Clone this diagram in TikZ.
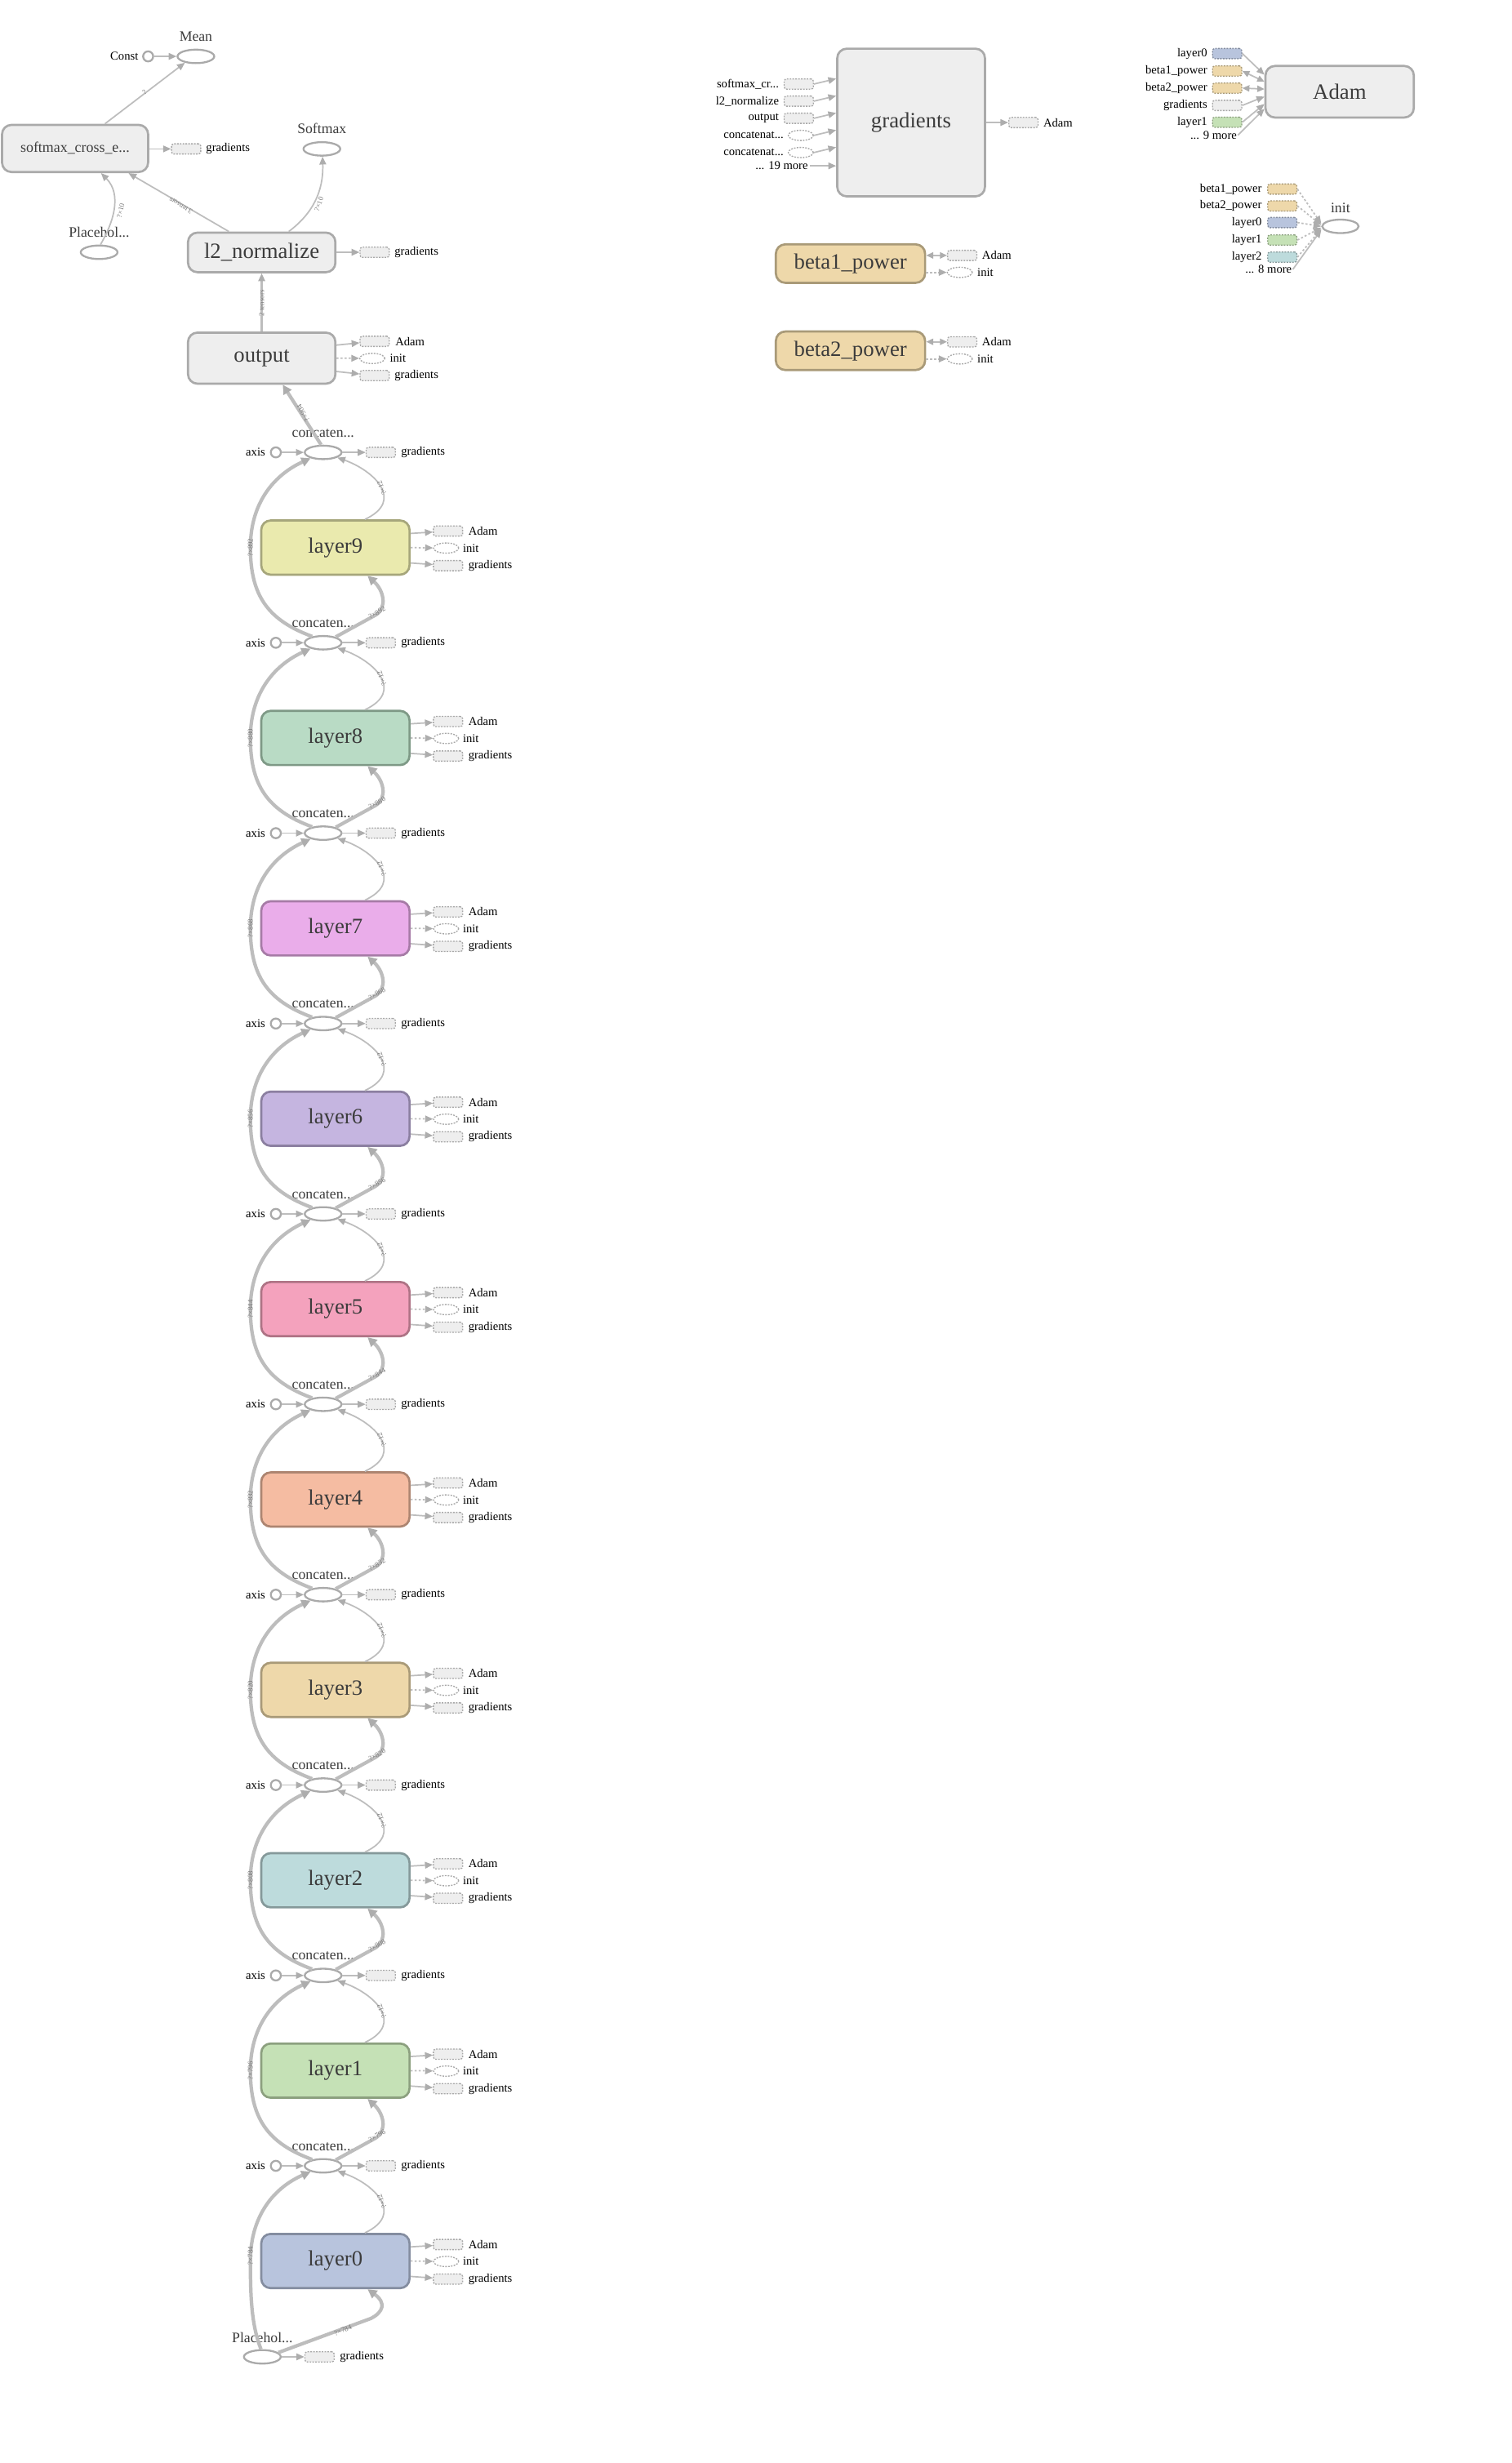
\documentclass[tikz,border=0pt]{standalone}
\usepackage{fontspec}
\setmainfont{Liberation Serif}
\usetikzlibrary{shapes.geometric,arrows.meta,calc}

\definecolor{edgecol}{HTML}{BDBDBD}
\definecolor{tipcol}{HTML}{ADADAD}
\definecolor{opfill}{HTML}{EEEEEE}
\definecolor{opdraw}{HTML}{AAAAAA}
\definecolor{stubdraw}{HTML}{A8A8A8}
\definecolor{txtdark}{HTML}{3C3C3C}
\definecolor{txtedge}{HTML}{7A7A7A}
\definecolor{tanfill}{HTML}{EED8AA}
\definecolor{tandraw}{HTML}{A99A78}
\definecolor{lfill0}{HTML}{B8C4DD}\definecolor{ldraw0}{HTML}{848DA0}
\definecolor{lfill1}{HTML}{C5E1B6}\definecolor{ldraw1}{HTML}{8CA07F}
\definecolor{lfill2}{HTML}{BDDBDC}\definecolor{ldraw2}{HTML}{85999A}
\definecolor{lfill3}{HTML}{EED8AA}\definecolor{ldraw3}{HTML}{A99A78}
\definecolor{lfill4}{HTML}{F5BCA2}\definecolor{ldraw4}{HTML}{AD8571}
\definecolor{lfill5}{HTML}{F4A2BD}\definecolor{ldraw5}{HTML}{AE7385}
\definecolor{lfill6}{HTML}{C5B5E0}\definecolor{ldraw6}{HTML}{8B7FA0}
\definecolor{lfill7}{HTML}{EAADEA}\definecolor{ldraw7}{HTML}{A67BA6}
\definecolor{lfill8}{HTML}{B9DBC5}\definecolor{ldraw8}{HTML}{7E9986}
\definecolor{lfill9}{HTML}{EAEAAE}\definecolor{ldraw9}{HTML}{A6A67B}

\begin{document}
\begin{tikzpicture}[x=1pt,y=-1pt,
  big/.style={font=\fontsize{13.9}{14}\selectfont,text=txtdark},
  mid/.style={font=\fontsize{9.2}{10}\selectfont,text=txtdark,inner sep=0},
  small/.style={font=\fontsize{7.6}{8}\selectfont,text=black,inner sep=0},
  tiny/.style={font=\fontsize{4.6}{5}\selectfont,text=txtedge,inner sep=0.3pt},
  opbox/.style={draw=opdraw,fill=opfill,line width=1.4pt,rounded corners=6pt,inner sep=0,big},
  opell/.style={ellipse,draw=opdraw,fill=white,line width=1.2pt,minimum width=23.4pt,minimum height=8.6pt,inner sep=0},
  constc/.style={circle,draw=opdraw,fill=white,line width=1.2pt,minimum size=6.4pt,inner sep=0},
  stubr/.style={draw=stubdraw,fill=opfill,dash pattern=on 1pt off 0.8pt,line width=0.7pt,rounded corners=1.5pt,minimum width=18.6pt,minimum height=6.5pt,inner sep=0},
  stube/.style={ellipse,draw=stubdraw,fill=white,dash pattern=on 1pt off 0.8pt,line width=0.7pt,minimum width=16pt,minimum height=6.5pt,inner sep=0},
  flow/.style={draw=edgecol,line width=0.9pt,-{Triangle[length=5pt,width=4.2pt,color=tipcol]}},
  heavy/.style={draw=edgecol,line width=2.2pt,-{Triangle[length=5.8pt,width=5.8pt,color=tipcol]}},
  ctrl/.style={flow,dash pattern=on 1.3pt off 1.3pt},
  both/.style={draw=edgecol,line width=0.9pt,{Triangle[length=4.5pt,width=4pt,color=tipcol]}-{Triangle[length=4.5pt,width=4pt,color=tipcol]}},
]
\fill[white] (0,0) rectangle (962,1568);
\useasboundingbox (0,0) rectangle (962,1568);

% ---------------- loss head ----------------
\node[opell] (mean) at (124.7,35.9) {};
\node[mid] (meanlbl) at (124.7,23.4) {Mean};
\node[constc] (const) at (94.3,35.9) {};
\node[small,anchor=east] (constlbl) at (88.2,35.9) {Const};
\draw[flow] (const) -- (mean);

\node[opbox,minimum width=93pt,minimum height=30pt,font=\fontsize{9.3}{10}\selectfont] (sce) at (47.8,94.5) {softmax\_cross\_e...};
\node[stubr] (scegr) at (118.5,94.8) {};
\node[small,anchor=west] (scegrlbl) at (131,94.8) {gradients};
\draw[flow] (sce.east |- scegr) -- (scegr);

\node[opell] (softmax) at (204.9,94.8) {};
\node[mid] (softmaxlbl) at (204.9,81.9) {Softmax};
\node[opell] (labels) at (63.1,160.6) {};
\node[mid] (labelslbl) at (63.1,148.1) {Placehol...};

\node[opbox,minimum width=93.8pt,minimum height=25.2pt] (l2) at (166.6,160.7) {l2\_normalize};
\node[stubr] (l2gr) at (238.5,160.6) {};
\node[small,anchor=west] (l2grlbl) at (251,160.6) {gradients};
\draw[flow] (l2.east |- l2gr) -- (l2gr);

\node[opbox,minimum width=93.8pt,minimum height=32.5pt] (out) at (166.6,228) {output};
\node[stubr] (oa) at (238.5,217.3) {};
\node[small,anchor=west] (oal) at (251.5,217.3) {Adam};
\node[stube] (oi) at (237,228.2) {};
\node[small,anchor=west] (oil) at (248,228.2) {init};
\node[stubr] (og) at (238.5,239.1) {};
\node[small,anchor=west] (ogl) at (251,239.1) {gradients};
\draw[flow] ([yshift=8.3pt]out.east) -- (oa);
\draw[ctrl] (out.east) -- (oi);
\draw[flow] ([yshift=-8.5pt]out.east) -- (og);

% loss head connectors
\draw[flow] ([xshift=19pt]sce.north) -- (mean.-150);
\node[tiny,rotate=38] (e1) at (92,58.5) {?};
\draw[flow] (labels.80) .. controls (72,142) and (78,124) .. ([xshift=16.5pt]sce.south);
\node[tiny,rotate=78] (e2) at (76.8,134) {?×10};
\draw[flow] ([xshift=-20.9pt]l2.north) -- ([xshift=34pt]sce.south);
\node[tiny,rotate=149] (e3) at (115,131) {3 tensors};
\draw[flow] ([xshift=17.2pt]l2.north) .. controls (199,136) and (206,122) .. (softmax.-85);
\node[tiny,rotate=70] (e4) at (203,130) {?×10};
\draw[flow,line width=1.2pt] (out.north) -- (l2.south);
\node[tiny,rotate=90] (e5) at (166.6,193) {2 tensors};

% ---------------- dense blocks ----------------
\foreach \j in {0,...,9} {
  \pgfmathsetmacro{\cy}{288+121.2*(9-\j)}
  \pgfmathsetmacro{\ly}{\cy+60.6}
  \node[opell] (c\j) at (205.7,\cy) {};
  \node[mid] (cl\j) at (205.7,\cy-12.3) {concaten...};
  \node[constc] (ax\j) at (175.6,\cy) {};
  \node[small,anchor=east] (axl\j) at (169,\cy) {axis};
  \node[stubr] (cg\j) at (242.4,\cy) {};
  \node[small,anchor=west] (cgl\j) at (255.2,\cy) {gradients};
  \draw[flow] (ax\j) -- (c\j);
  \draw[flow] (c\j) -- (cg\j);
  \node[opbox,fill=lfill\j,draw=ldraw\j,minimum width=94.4pt,minimum height=34.5pt] (l\j) at (213.5,\ly) {layer\j};
  \node[stubr] (la\j) at (285.2,\ly-10.5) {};
  \node[small,anchor=west] (lal\j) at (298,\ly-10.5) {Adam};
  \node[stube] (li\j) at (284,\ly+0.3) {};
  \node[small,anchor=west] (lil\j) at (294.5,\ly+0.3) {init};
  \node[stubr] (lg\j) at (285.2,\ly+11.5) {};
  \node[small,anchor=west] (lgl\j) at (298,\ly+11.5) {gradients};
  \draw[flow] ([yshift=9pt]l\j.east) -- (la\j);
  \draw[ctrl] (l\j.east) -- (li\j);
  \draw[flow] ([yshift=-9.8pt]l\j.east) -- (lg\j);
  \draw[flow] ([xshift=18.8pt]l\j.north) .. controls (258,\ly-30) and (238,\ly-49) .. (c\j.-20);
  \node[tiny,rotate=112] (tl\j) at (243,\ly-38) {?×12};
}

\foreach \j in {1,...,9} {
  \pgfmathtruncatemacro{\k}{\j-1}
  \pgfmathtruncatemacro{\nn}{784+12*\j}
  \pgfmathsetmacro{\ly}{348.6+121.2*(9-\j)}
  \draw[heavy] (c\k.150) .. controls (170,\ly+46) and (159.4,\ly+30) .. (159.4,\ly)
                .. controls (159.4,\ly-30) and (176,\ly-47) .. (c\j.-155);
  \draw[heavy] (c\k.25) -- (239,\ly+43) .. controls (247,\ly+38) and (244,\ly+27) .. ([xshift=20.5pt]l\j.south);
  \node[tiny,rotate=90] (lp\j) at (159.4,\ly) {?×\nn};
  \node[tiny,rotate=30] (rp\j) at (240,\ly+41.5) {?×\nn};
}

% input placeholder
\node[opell] (ph) at (167,1500.4) {};
\node[mid] (phl) at (167,1488.2) {Placehol...};
\node[stubr] (phg) at (203.4,1500.4) {};
\node[small,anchor=west] (phgl) at (216.2,1500.4) {gradients};
\draw[flow] (ph) -- (phg);
\draw[heavy] (ph.100) .. controls (160,1480) and (159.4,1462) .. (159.4,1439.4)
             .. controls (159.4,1409) and (176,1392) .. (c0.-155);
\draw[heavy] (ph.15) -- (236,1476) .. controls (244,1472) and (246,1466) .. ([xshift=20.5pt]l0.south);
\node[tiny,rotate=90] (lpz) at (159.4,1436) {?×784};
\node[tiny,rotate=22] (rpz) at (218.3,1483.5) {?×784};

% last concat feeds the output layer
\draw[heavy] (c9.105) -- ([xshift=13.4pt]out.south);
\node[tiny,rotate=120] (e6) at (193,263) {?×904};

% ---------------- gradients ----------------
\node[opbox,minimum width=94pt,minimum height=94pt] (grad) at (580,78) {gradients};
\node[stubr] (gi1) at (508.5,53.5) {};
\node[small,anchor=east] (gil1) at (496,53.5) {softmax\_cr...};
\node[stubr] (gi2) at (508.5,64.4) {};
\node[small,anchor=east] (gil2) at (496,64.4) {l2\_normalize};
\node[stubr] (gi3) at (508.5,75.3) {};
\node[small,anchor=east] (gil3) at (496,75.3) {output};
\node[stube] (gi4) at (509.8,86.2) {};
\node[small,anchor=east] (gil4) at (499,86.2) {concatenat...};
\node[stube] (gi5) at (509.8,97.1) {};
\node[small,anchor=east] (gil5) at (499,97.1) {concatenat...};
\node[small,anchor=east] (gi6) at (514.5,105.6) {... 19 more};
\draw[flow] (gi1.east) -- ($(grad.west |- gi1)+(0,-3.4)$);
\draw[flow] (gi2.east) -- ($(grad.west |- gi2)+(0,-3.4)$);
\draw[flow] (gi3.east) -- ($(grad.west |- gi3)+(0,-3.4)$);
\draw[flow] (gi4.east) -- ($(grad.west |- gi4)+(0,-3.4)$);
\draw[flow] (gi5.east) -- ($(grad.west |- gi5)+(0,-3.4)$);
\draw[flow] ([xshift=1pt]gi6.east) -- (grad.west |- gi6);
\node[stubr] (gad) at (651.5,78) {};
\node[small,anchor=west] (gadl) at (664,78) {Adam};
\draw[flow] (grad.east) -- (gad);

% ---------------- beta powers ----------------
\node[opbox,fill=tanfill,draw=tandraw,minimum width=95pt,minimum height=24.5pt] (b1) at (541.4,167.8) {beta1\_power};
\node[stubr] (b1a) at (612.5,162.6) {};
\node[small,anchor=west] (b1al) at (625,162.6) {Adam};
\node[stube] (b1i) at (611,173.4) {};
\node[small,anchor=west] (b1il) at (622,173.4) {init};
\draw[both] (b1.east |- b1a) -- (b1a);
\draw[ctrl] (b1.east |- b1i) -- (b1i);

\node[opbox,fill=tanfill,draw=tandraw,minimum width=95pt,minimum height=24.5pt] (b2) at (541.4,223.3) {beta2\_power};
\node[stubr] (b2a) at (612.5,217.6) {};
\node[small,anchor=west] (b2al) at (625,217.6) {Adam};
\node[stube] (b2i) at (611,228.5) {};
\node[small,anchor=west] (b2il) at (622,228.5) {init};
\draw[both] (b2.east |- b2a) -- (b2a);
\draw[ctrl] (b2.east |- b2i) -- (b2i);

% ---------------- Adam ----------------
\node[opbox,minimum width=94.4pt,minimum height=32.8pt] (adam) at (852.8,58.4) {Adam};
\node[stubr,fill=lfill0,draw=ldraw0] (ad1) at (781.2,34.1) {};
\node[small,anchor=east] (adl1) at (768.7,34.1) {layer0};
\node[stubr,fill=tanfill,draw=tandraw] (ad2) at (781.2,45.2) {};
\node[small,anchor=east] (adl2) at (768.7,45.2) {beta1\_power};
\node[stubr,fill=tanfill,draw=tandraw] (ad3) at (781.2,56.1) {};
\node[small,anchor=east] (adl3) at (768.7,56.1) {beta2\_power};
\node[stubr] (ad4) at (781.2,67.1) {};
\node[small,anchor=east] (adl4) at (768.7,67.1) {gradients};
\node[stubr,fill=lfill1,draw=ldraw1] (ad5) at (781.2,77.8) {};
\node[small,anchor=east] (adl5) at (768.7,77.8) {layer1};
\node[small,anchor=east] (ad6) at (787.5,86.1) {... 9 more};
\draw[flow] (ad1.east) -- ($(adam.west)+(0,-10.8)$);
\draw[both] (ad2.east) -- ($(adam.west)+(0,-6.4)$);
\draw[both] (ad3.east) -- ($(adam.west)+(0,-1.7)$);
\draw[flow] (ad4.east) -- ($(adam.west)+(0,3.1)$);
\draw[flow] (ad5.east) -- ($(adam.west)+(0,7.8)$);
\draw[flow] ([xshift=0.5pt]ad6.east) -- ($(adam.west)+(0,10.9)$);

% ---------------- init ----------------
\node[opell,minimum width=23.2pt] (initn) at (853.3,144.1) {};
\node[mid] (initl) at (853.3,132.2) {init};
\node[stubr,fill=tanfill,draw=tandraw] (in1) at (816.3,120.4) {};
\node[small,anchor=east] (inl1) at (803.4,120.4) {beta1\_power};
\node[stubr,fill=tanfill,draw=tandraw] (in2) at (816.3,131.1) {};
\node[small,anchor=east] (inl2) at (803.4,131.1) {beta2\_power};
\node[stubr,fill=lfill0,draw=ldraw0] (in3) at (816.3,141.7) {};
\node[small,anchor=east] (inl3) at (803.4,141.7) {layer0};
\node[stubr,fill=lfill1,draw=ldraw1] (in4) at (816.3,152.8) {};
\node[small,anchor=east] (inl4) at (803.4,152.8) {layer1};
\node[stubr,fill=lfill2,draw=ldraw2] (in5) at (816.3,163.7) {};
\node[small,anchor=east] (inl5) at (803.4,163.7) {layer2};
\node[small,anchor=east] (in6) at (822.5,171.5) {... 8 more};
\draw[ctrl] (in1.east) -- ($(initn.west)+(0,-1.6)$);
\draw[ctrl] (in2.east) -- ($(initn.west)+(0,-0.8)$);
\draw[ctrl] (in3.east) -- (initn.west);
\draw[ctrl] (in4.east) -- ($(initn.west)+(0,0.8)$);
\draw[ctrl] (in5.east) -- ($(initn.west)+(0,1.6)$);
\draw[flow] ([xshift=0.5pt]in6.east) -- ($(initn.west)+(0,2.2)$);
\end{tikzpicture}
\end{document}
